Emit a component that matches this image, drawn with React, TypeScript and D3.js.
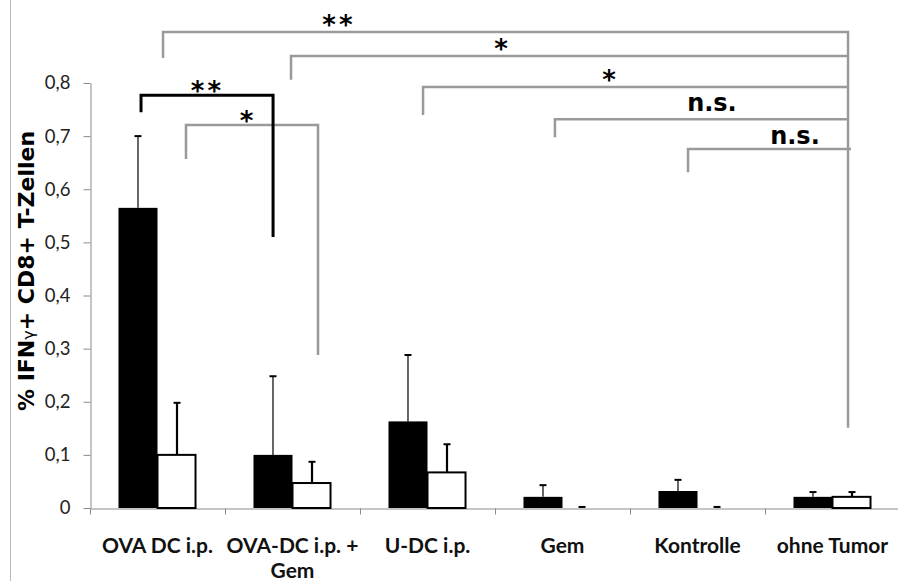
import React, { useEffect, useRef } from 'react';
import * as d3 from 'd3';

const W = 898;
const H = 581;

// groups on the x axis
const categories = ['OVA DC i.p.', 'OVA-DC i.p. + Gem', 'U-DC i.p.', 'Gem', 'Kontrolle', 'ohne Tumor'];
const categoryLines = [['OVA DC i.p.'], ['OVA-DC i.p. +', 'Gem'], ['U-DC i.p.'], ['Gem'], ['Kontrolle'], ['ohne Tumor']];
const series = ['schwarz', 'weiss'];

// mean values and upper error per group
const blackValues = [0.565, 0.1, 0.163, 0.021, 0.032, 0.021];
const blackErrors = [0.135, 0.148, 0.125, 0.022, 0.021, 0.009];
const whiteValues = [0.1, 0.047, 0.067, 0, 0, 0.021];
const whiteErrors = [0.098, 0.04, 0.053, 0.002, 0.002, 0.009];

const yTicks = [0, 0.1, 0.2, 0.3, 0.4, 0.5, 0.6, 0.7, 0.8];

// significance brackets, x in group units (0..6), y in data units
const bracketX1 = [0.541, 1.489, 2.467, 3.444, 4.43, 0.711, 0.378];
const bracketX2 = [5.615, 5.615, 5.615, 5.615, 5.637, 1.689, 1.356];
const bracketTop = [0.896, 0.851, 0.7925, 0.732, 0.676, 0.721, 0.777];
const bracketLeftEnd = [0.847, 0.806, 0.74, 0.698, 0.632, 0.657, 0.745];
const bracketRightEnd = [0.151, null, null, null, null, 0.288, 0.51];
const bracketColor = ['#9a9a9a', '#9a9a9a', '#9a9a9a', '#9a9a9a', '#9a9a9a', '#9a9a9a', '#000'];
const bracketLabels = ['**', '*', '*', 'n.s.', 'n.s.', '*', '**'];
const labelX = [1.844, 3.044, 3.844, 4.607, 5.222, 1.159, 0.87];
const labelY = [0.892, 0.847, 0.789, 0.747, 0.685, 0.7115, 0.768];

export default function App() {
  const ref = useRef<SVGSVGElement>(null);

  useEffect(() => {
    const svg = d3.select(ref.current);
    svg.selectAll('*').remove();

    const x = d3.scaleBand<string>().domain(categories).range([90, 900]);
    const xs = d3.scaleBand<string>().domain(series).range([0, x.bandwidth()]).paddingOuter(0.73);
    const ux = d3.scaleLinear().domain([0, 6]).range([90, 900]);
    const y = d3.scaleLinear().domain([0, 0.8]).range([508, 83]);
    const fmt = d3.formatLocale({ decimal: ',', thousands: '.', grouping: [3], currency: ['', ''] }).format('.1~f');

    // left frame line
    svg.append('line')
      .attr('x1', 10.5).attr('x2', 10.5).attr('y1', 0).attr('y2', H)
      .attr('stroke', '#b8b8b8').attr('stroke-width', 1);

    // y axis
    const gy = svg.append('g')
      .attr('transform', 'translate(90.5,0)')
      .call(d3.axisLeft(y).tickValues(yTicks).tickFormat(fmt as any).tickSize(7).tickSizeOuter(0).tickPadding(13));
    gy.select('.domain').attr('stroke', '#8a8a8a');
    gy.selectAll('.tick line').attr('stroke', '#8a8a8a');
    gy.selectAll('.tick text')
      .attr('font-family', 'Lato')
      .attr('font-size', 18.5)
      .attr('fill', '#222');

    // x axis, ticks on group boundaries
    const gx = svg.append('g')
      .attr('transform', 'translate(0,508.5)')
      .call(d3.axisBottom(ux).tickValues(d3.range(0, 7)).tickFormat(() => '').tickSize(6).tickSizeOuter(0));
    gx.select('.domain').attr('stroke', '#8a8a8a');
    gx.selectAll('.tick line').attr('stroke', '#8a8a8a');

    // group labels
    categories.forEach((c, i) => {
      const t = svg.append('text')
        .attr('x', x(c)! + x.bandwidth() / 2)
        .attr('y', 553)
        .attr('text-anchor', 'middle')
        .attr('font-family', 'Lato')
        .attr('font-weight', 'bold')
        .attr('font-size', 21)
        .attr('fill', '#111');
      categoryLines[i].forEach((line, j) => {
        t.append('tspan')
          .attr('x', x(c)! + x.bandwidth() / 2)
          .attr('dy', j === 0 ? 0 : 25)
          .text(line);
      });
    });

    // bars
    const bars = svg.append('g');
    categories.forEach((c, i) => {
      const bx = x(c)! + xs('schwarz')!;
      bars.append('rect')
        .attr('x', bx).attr('width', xs.bandwidth())
        .attr('y', y(blackValues[i])).attr('height', y(0) - y(blackValues[i]))
        .attr('fill', '#000');
      const wx = x(c)! + xs('weiss')!;
      if (whiteValues[i] > 0) {
        bars.append('rect')
          .attr('x', wx).attr('width', xs.bandwidth() - 1)
          .attr('y', y(whiteValues[i])).attr('height', y(0) - y(whiteValues[i]))
          .attr('fill', '#fff').attr('stroke', '#000').attr('stroke-width', 2);
      }
    });

    // error bars (upper only)
    const errs = svg.append('g');
    const drawErr = (cx: number, v: number, e: number, sw: number) => {
      errs.append('line')
        .attr('x1', cx).attr('x2', cx).attr('y1', y(v)).attr('y2', y(v + e))
        .attr('stroke', '#000').attr('stroke-width', sw);
      errs.append('line')
        .attr('x1', cx - 3.5).attr('x2', cx + 3.5).attr('y1', y(v + e)).attr('y2', y(v + e))
        .attr('stroke', '#000').attr('stroke-width', 2);
    };
    categories.forEach((c, i) => {
      drawErr(x(c)! + xs('schwarz')! + xs.bandwidth() / 2, blackValues[i], blackErrors[i], 1.2);
      drawErr(x(c)! + xs('weiss')! + xs.bandwidth() / 2, whiteValues[i], whiteErrors[i], 2.2);
    });

    // significance brackets
    const line = d3.line<[number, number]>();
    bracketX1.forEach((x1, i) => {
      const pts: [number, number][] = [
        [ux(x1), y(bracketLeftEnd[i])],
        [ux(x1), y(bracketTop[i])],
        [ux(bracketX2[i]), y(bracketTop[i])],
      ];
      const re = bracketRightEnd[i];
      if (re !== null) pts.push([ux(bracketX2[i]), y(re)]);
      svg.append('path')
        .attr('d', line(pts))
        .attr('fill', 'none')
        .attr('stroke', bracketColor[i])
        .attr('stroke-width', i === 6 ? 3 : 2.5);

      svg.append('text')
        .attr('x', ux(labelX[i]))
        .attr('y', y(labelY[i]))
        .attr('text-anchor', 'middle')
        .attr('font-family', 'DejaVu Sans')
        .attr('font-weight', 'bold')
        .attr('font-size', bracketLabels[i] === 'n.s.' ? 24 : 26)
        .attr('letter-spacing', bracketLabels[i] === '**' ? 3 : 0)
        .attr('fill', '#000')
        .text(bracketLabels[i]);
    });

    // y title
    const title = svg.append('text')
      .attr('transform', 'translate(34,271) rotate(-90)')
      .attr('text-anchor', 'middle')
      .attr('font-family', 'DejaVu Sans')
      .attr('font-weight', 'bold')
      .attr('font-size', 22)
      .attr('fill', '#000');
    title.append('tspan').text('% IFN');
    title.append('tspan').attr('font-size', 16).attr('font-weight', 'normal').text('γ');
    title.append('tspan').text('+ CD8+ T-Zellen');
  }, []);

  return (
    <svg
      ref={ref}
      width={W}
      height={H}
      style={{ position: 'absolute', left: 0, top: 0, background: '#fff' }}
    />
  );
}
